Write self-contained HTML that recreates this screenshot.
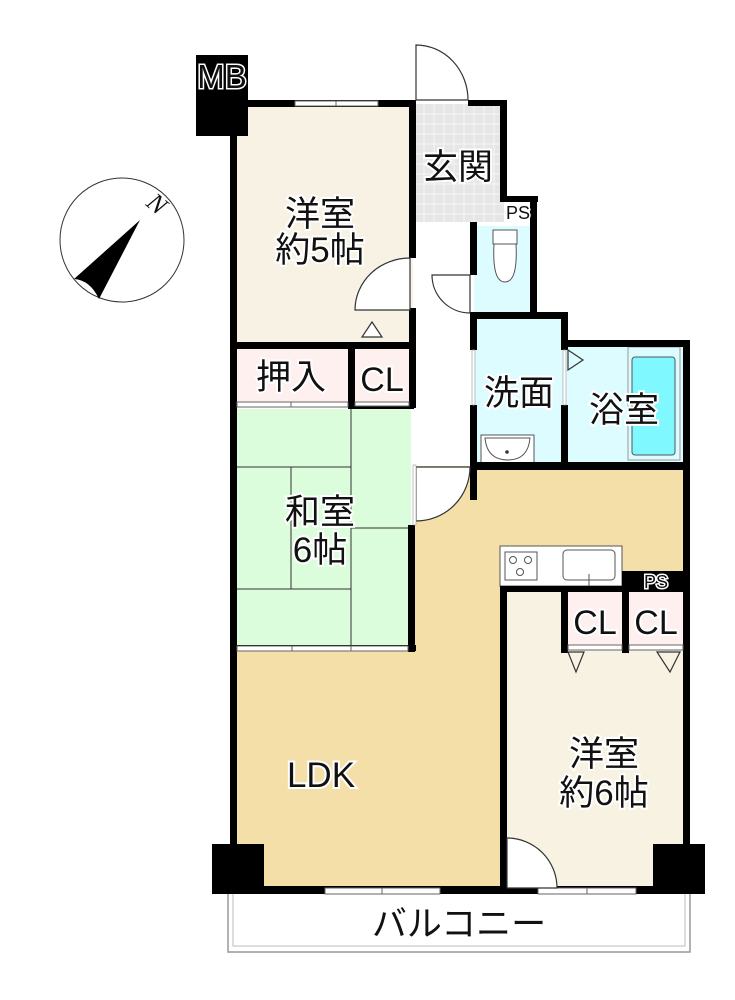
<!DOCTYPE html>
<html><head><meta charset="utf-8"><style>
html,body{margin:0;padding:0;background:#fff;}
svg{display:block;}
text{font-family:"Liberation Sans","Noto Sans CJK JP",sans-serif;fill:#111;stroke:#fff;stroke-width:4px;paint-order:stroke;}
</style></head><body>
<svg width="735" height="1000" viewBox="0 0 735 1000" xmlns="http://www.w3.org/2000/svg">
<rect x="228" y="893" width="462" height="59" fill="#fff" stroke="#999" stroke-width="1.5"/>
<rect x="233" y="893" width="452" height="53" fill="none" stroke="#bbb" stroke-width="1"/>
<rect x="233" y="104" width="180" height="242" fill="#f7f2e3"/>
<rect x="233" y="346" width="120" height="58" fill="#fdf0ef"/>
<rect x="352" y="346" width="60" height="58" fill="#fdf0ef"/>
<rect x="233" y="409" width="178" height="240" fill="#dcfddc"/>
<rect x="414" y="104" width="90" height="118" fill="#e6e6e6"/>
<g stroke="#f6f6f6" stroke-width="1">
<path d="M424 104V222M434 104V222M444 104V222M454 104V222M464 104V222M474 104V222M484 104V222M494 104V222M414 114H504M414 124H504M414 134H504M414 144H504M414 154H504M414 164H504M414 174H504M414 184H504M414 194H504M414 204H504M414 214H504"/>
</g>
<rect x="474" y="226" width="60" height="90" fill="#ddfcff"/>
<rect x="474" y="316" width="92" height="150" fill="#ddfcff"/>
<rect x="566" y="343" width="120" height="123" fill="#ddfcff"/>
<path d="M233 649H413V466H686V890H233Z" fill="#f5dfa8"/>
<rect x="504" y="589" width="182" height="300" fill="#f8f2e3"/>
<rect x="565" y="590" width="60" height="58" fill="#fdf0ef"/>
<rect x="626" y="590" width="60" height="58" fill="#fdf0ef"/>
<g stroke="#333" stroke-width="1" fill="none">
<path d="M351 409V649M233 467H351M233 589H351M291 467V589M351 528H410"/>
</g>
<rect x="628" y="347" width="52" height="113" fill="#ddfcff" stroke="#999" stroke-width="1"/>
<rect x="632" y="357" width="43" height="98" rx="3" fill="#80f8ff" stroke="#555" stroke-width="1"/>
<rect x="481" y="435" width="53" height="28" fill="#fff" stroke="#555" stroke-width="1"/>
<path d="M485 438H530Q528 460 508 460Q487 460 485 438Z" fill="#fff" stroke="#555" stroke-width="1"/>
<circle cx="507" cy="452" r="1.8" fill="#333"/>
<rect x="493" y="230" width="24" height="14" fill="#fff" stroke="#555" stroke-width="1"/>
<path d="M494 244Q492 282 505 282Q518 282 516 244Z" fill="#fff" stroke="#555" stroke-width="1"/>
<rect x="500" y="546" width="122" height="40" fill="#fff" stroke="#555" stroke-width="1"/>
<rect x="505" y="552" width="32" height="28" fill="#fff" stroke="#555" stroke-width="1"/>
<circle cx="513" cy="560" r="3.5" fill="none" stroke="#555"/><circle cx="528" cy="560" r="3.5" fill="none" stroke="#555"/><circle cx="520" cy="572" r="3.5" fill="none" stroke="#555"/>
<rect x="563" y="550" width="52" height="30" rx="4" fill="#fff" stroke="#555" stroke-width="1"/>
<path d="M589 574V586" stroke="#555" stroke-width="1"/>
<g fill="#000">
<rect x="230" y="100" width="186" height="7"/>
<rect x="230" y="100" width="7" height="790"/>
<rect x="230" y="342" width="186" height="7"/>
<rect x="348" y="342" width="7" height="66"/>
<rect x="348" y="402" width="66" height="7"/>
<rect x="409" y="100" width="7" height="158"/>
<rect x="409" y="308" width="7" height="100"/>
<rect x="408" y="525" width="7" height="127"/>
<rect x="230" y="645" width="186" height="6"/>
<rect x="468" y="100" width="39" height="6"/>
<rect x="500" y="100" width="7" height="100"/>
<rect x="500" y="196" width="38" height="6"/>
<rect x="530" y="196" width="7" height="122"/>
<rect x="470" y="222" width="7" height="53"/>
<rect x="470" y="312" width="97" height="7"/>
<rect x="470" y="312" width="7" height="38"/>
<rect x="470" y="405" width="7" height="95"/>
<rect x="561" y="312" width="7" height="38"/>
<rect x="561" y="405" width="7" height="62"/>
<rect x="561" y="340" width="129" height="7"/>
<rect x="470" y="462" width="220" height="8"/>
<rect x="683" y="340" width="7" height="552"/>
<rect x="500" y="586" width="190" height="6"/>
<rect x="500" y="586" width="7" height="306"/>
<rect x="622" y="571" width="68" height="21"/>
<rect x="561" y="586" width="7" height="67"/>
<rect x="622" y="586" width="7" height="67"/>
<rect x="212" y="886" width="493" height="8"/>
<rect x="212" y="844" width="52" height="50"/>
<rect x="653" y="844" width="52" height="50"/>
<rect x="196" y="55" width="52" height="81"/>
</g>
<g fill="#fff" stroke="#666" stroke-width="1">
<rect x="295" y="101" width="83" height="5"/><path d="M336 101v5"/>
<rect x="325" y="888" width="115" height="6"/><path d="M382 888v6"/>
<rect x="538" y="888" width="98" height="6"/><path d="M587 888v6"/>
<rect x="237" y="402" width="111" height="5"/><path d="M291 402v5"/>
<rect x="237" y="646" width="171" height="5"/><path d="M292 646v5M351 646v5"/>
<rect x="355" y="402" width="54" height="4"/>
<rect x="568" y="645" width="54" height="5"/>
<rect x="629" y="645" width="54" height="5"/>
</g>
<g fill="#fff" stroke="#333" stroke-width="1.2">
<path d="M416 100V45A52 55 0 0 1 468 100Z"/>
<path d="M410 258V310H355A55 52 0 0 1 410 258Z"/>
<path d="M470 275H432A38 38 0 0 0 470 313Z"/>
<path d="M416 467H470A54 54 0 0 1 416 521Z"/>
<path d="M507 838V888H557A50 50 0 0 0 507 838Z"/>
<path d="M372 322L362 337H382Z"/>
<path d="M568 350L583 360L568 370Z" fill="#ddfcff"/>
<path d="M568 652L584 652L576 672Z" fill="#f8f2e3"/>
<path d="M657 652L680 652L670 672Z" fill="#f8f2e3"/>
</g>
<rect x="413" y="465" width="3" height="60" fill="#fff" stroke="#999" stroke-width="0.6"/>
<rect x="472" y="350" width="3" height="55" fill="#fff" stroke="#999" stroke-width="0.6"/>
<rect x="563" y="350" width="3" height="55" fill="#fff" stroke="#999" stroke-width="0.6"/>
<circle cx="122" cy="240" r="62" fill="#fff" stroke="#333" stroke-width="1"/>
<path d="M140 220L74 279Q90 280 99 299Z" fill="#000"/>
<text x="156" y="212" font-size="26" style="font-family:'Liberation Serif',serif;font-style:italic;stroke-width:2px" transform="rotate(40 156 205)" text-anchor="middle">N</text>
<text x="222" y="88" font-size="33" text-anchor="middle" style="stroke-width:3px">MB</text>
<text x="320" y="226" font-size="35" text-anchor="middle">洋室</text>
<text x="320" y="262" font-size="35" text-anchor="middle">約5帖</text>
<text x="458" y="179" font-size="35" text-anchor="middle">玄関</text>
<text x="518" y="219" font-size="18" text-anchor="middle" style="stroke-width:3px">PS</text>
<text x="291" y="389" font-size="35" text-anchor="middle">押入</text>
<text x="382" y="391" font-size="34" text-anchor="middle">CL</text>
<text x="320" y="524" font-size="35" text-anchor="middle">和室</text>
<text x="320" y="562" font-size="35" text-anchor="middle">6帖</text>
<text x="519" y="405" font-size="35" text-anchor="middle">洗面</text>
<text x="624" y="422" font-size="35" text-anchor="middle">浴室</text>
<text x="656" y="588" font-size="18" text-anchor="middle" style="stroke-width:3px">PS</text>
<text x="595" y="634" font-size="34" text-anchor="middle">CL</text>
<text x="656" y="634" font-size="34" text-anchor="middle">CL</text>
<text x="321" y="787" font-size="35" text-anchor="middle">LDK</text>
<text x="604" y="766" font-size="35" text-anchor="middle">洋室</text>
<text x="604" y="805" font-size="35" text-anchor="middle">約6帖</text>
<text x="459" y="936" font-size="35" text-anchor="middle">バルコニー</text>
</svg>
</body></html>
